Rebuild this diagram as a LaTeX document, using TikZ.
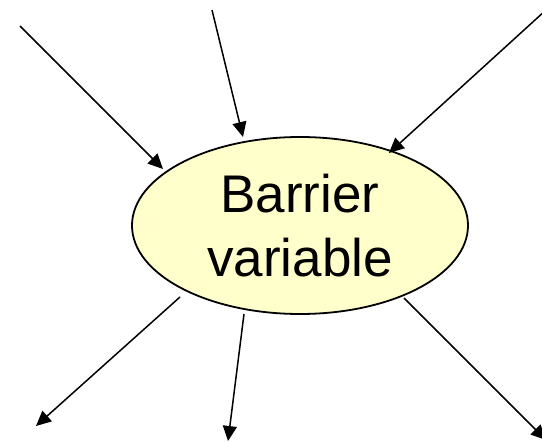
\documentclass[tikz,border=0pt]{standalone}
\usepackage{fontspec}
\setmainfont{Liberation Sans}
\usetikzlibrary{arrows.meta,shapes.geometric}
\definecolor{bvfill}{HTML}{FFFFCC}
\tikzset{
  bvnode/.style={ellipse, draw=black, line width=1.8pt, fill=bvfill, minimum width=336pt, minimum height=177pt, inner sep=0pt, align=center, font=\fontsize{53}{64}\selectfont},
  flow/.style={draw=black, line width=1.5pt, -{Triangle[length=15pt,width=14pt]}}
}
\begin{document}
\begin{tikzpicture}[x=1pt,y=-1pt]
\useasboundingbox (0,0) rectangle (542,442);
\begin{scope}
\clip (0,0) rectangle (542,442);
\node[bvnode] (bv) at (300,225.5) {Barrier\\variable};
\coordinate (i1s) at (20,26);
\coordinate (i1e) at (163,169);
\coordinate (i2s) at (212,10);
\coordinate (i2e) at (243,137);
\coordinate (i3s) at (546,10);
\coordinate (i3e) at (389,153);
\coordinate (o1s) at (180,297);
\coordinate (o1e) at (36,426);
\coordinate (o2s) at (244,314);
\coordinate (o2e) at (228,441);
\coordinate (o3s) at (404,298);
\coordinate (o3e) at (546,440);
\draw[flow] (i1s) -- (i1e);
\draw[flow] (i2s) -- (i2e);
\draw[flow] (i3s) -- (i3e);
\draw[flow] (o1s) -- (o1e);
\draw[flow] (o2s) -- (o2e);
\draw[flow] (o3s) -- (o3e);
\end{scope}
\end{tikzpicture}
\end{document}
